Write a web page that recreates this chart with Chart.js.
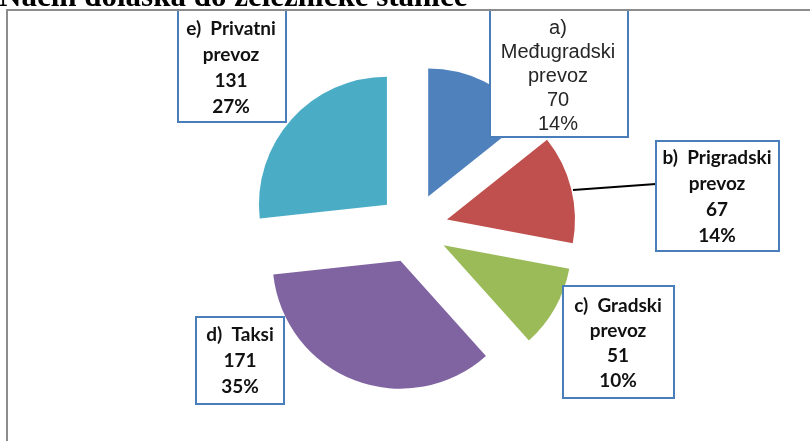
<!DOCTYPE html>
<html>
<head>
<meta charset="utf-8">
<script src="https://cdn.jsdelivr.net/npm/chart.js@4"></script>
<style>
  html, body { margin: 0; padding: 0; background: #fff; }
  #wrap { width: 810px; height: 441px; position: relative; }
</style>
</head>
<body>
<div id="wrap"><canvas id="myChart" width="810" height="441"></canvas></div>
<script>
// data
var title = "Način dolaska do železničke stanice";
var letters = ["a)", "b)", "c)", "d)", "e)"];
var categories = ["Međugradski prevoz", "Prigradski prevoz", "Gradski prevoz", "Taksi", "Privatni prevoz"];
var values = [70, 67, 51, 171, 131];
var barColors = ["#4F81BD", "#C0504D", "#9BBB59", "#8064A2", "#4BACC6"];

// where the label boxes sit (x, y, w, h, centre x, first line y, line step)
var boxes = [
  { x: 490, y: 10, w: 138, h: 127, cx: 558, ty: 28, step: 24, font: "20px 'Liberation Sans'", color: "#262626" },
  { x: 656, y: 141, w: 123, h: 110, cx: 717, ty: 158, step: 26, font: "bold 19px Lato", color: "#111" },
  { x: 563, y: 286, w: 111, h: 112, cx: 618, ty: 306, step: 25, font: "bold 19px Lato", color: "#111" },
  { x: 196, y: 317, w: 88, h: 87, cx: 240, ty: 335, step: 26, font: "bold 19px Lato", color: "#111" },
  { x: 178, y: 10, w: 108, h: 112, cx: 231, ty: 29, step: 26, font: "bold 19px Lato", color: "#111" }
];
var explode = 35; // izvlačenje isečaka

var total = values.reduce(function (s, v) { return s + v; }, 0);

function labelLines(i) {
  var words = categories[i].split(" ");
  var pct = Math.round(values[i] / total * 100) + "%";
  var lines;
  if (i === 0) lines = [letters[i]].concat(words);
  else lines = [letters[i] + "  " + words[0]].concat(words.slice(1));
  return lines.concat([String(values[i]), pct]);
}

var explodePlugin = {
  id: "explode",
  beforeDatasetsDraw: function (chart) {
    var meta = chart.getDatasetMeta(0);
    meta.data.forEach(function (arc) {
      if (arc.$baseX === undefined) { arc.$baseX = arc.x; arc.$baseY = arc.y; }
      var mid = (arc.startAngle + arc.endAngle) / 2;
      arc.x = arc.$baseX + Math.cos(mid) * explode;
      arc.y = arc.$baseY + Math.sin(mid) * explode;
    });
  }
};

var framePlugin = {
  id: "frame",
  beforeDraw: function (chart) {
    var ctx = chart.ctx;
    ctx.save();
    ctx.fillStyle = "#fff";
    ctx.fillRect(0, 0, chart.width, chart.height);
    ctx.font = "bold 31px 'Liberation Serif'";
    ctx.fillStyle = "#000";
    ctx.textBaseline = "alphabetic";
    ctx.fillText(title, -1, 6);
    ctx.fillStyle = "#8c8c8c";
    ctx.fillRect(6, 9, chart.width - 6, 2);
    ctx.fillRect(6, 9, 2, chart.height - 9);
    ctx.restore();
  },
  afterDraw: function (chart) {
    var ctx = chart.ctx;
    ctx.save();
    // leader line for b)
    ctx.strokeStyle = "#000";
    ctx.lineWidth = 2;
    ctx.beginPath();
    ctx.moveTo(573, 190);
    ctx.lineTo(656, 184);
    ctx.stroke();
    boxes.forEach(function (b, i) {
      ctx.fillStyle = "#fff";
      ctx.fillRect(b.x, b.y, b.w, b.h);
      ctx.strokeStyle = "#4A7EBB";
      ctx.lineWidth = 2;
      ctx.strokeRect(b.x, b.y, b.w, b.h);
      ctx.fillStyle = b.color;
      ctx.font = b.font;
      ctx.textAlign = "center";
      ctx.textBaseline = "middle";
      labelLines(i).forEach(function (t, k) {
        ctx.fillText(t, b.cx, b.ty + k * b.step);
      });
    });
    // top frame line over the boxes
    ctx.fillStyle = "#8c8c8c";
    ctx.fillRect(6, 9, chart.width - 6, 2);
    ctx.restore();
  }
};

new Chart("myChart", {
  type: "pie",
  data: {
    labels: categories,
    datasets: [{
      data: values,
      backgroundColor: barColors,
      borderWidth: 0,
      hoverOffset: 0
    }]
  },
  options: {
    responsive: false,
    animation: false,
    events: [],
    layout: { padding: { top: 100, bottom: 85, left: 100, right: 84 } },
    plugins: {
      legend: false,
      tooltip: { enabled: false }
    }
  },
  plugins: [framePlugin, explodePlugin]
});
</script>
</body>
</html>
